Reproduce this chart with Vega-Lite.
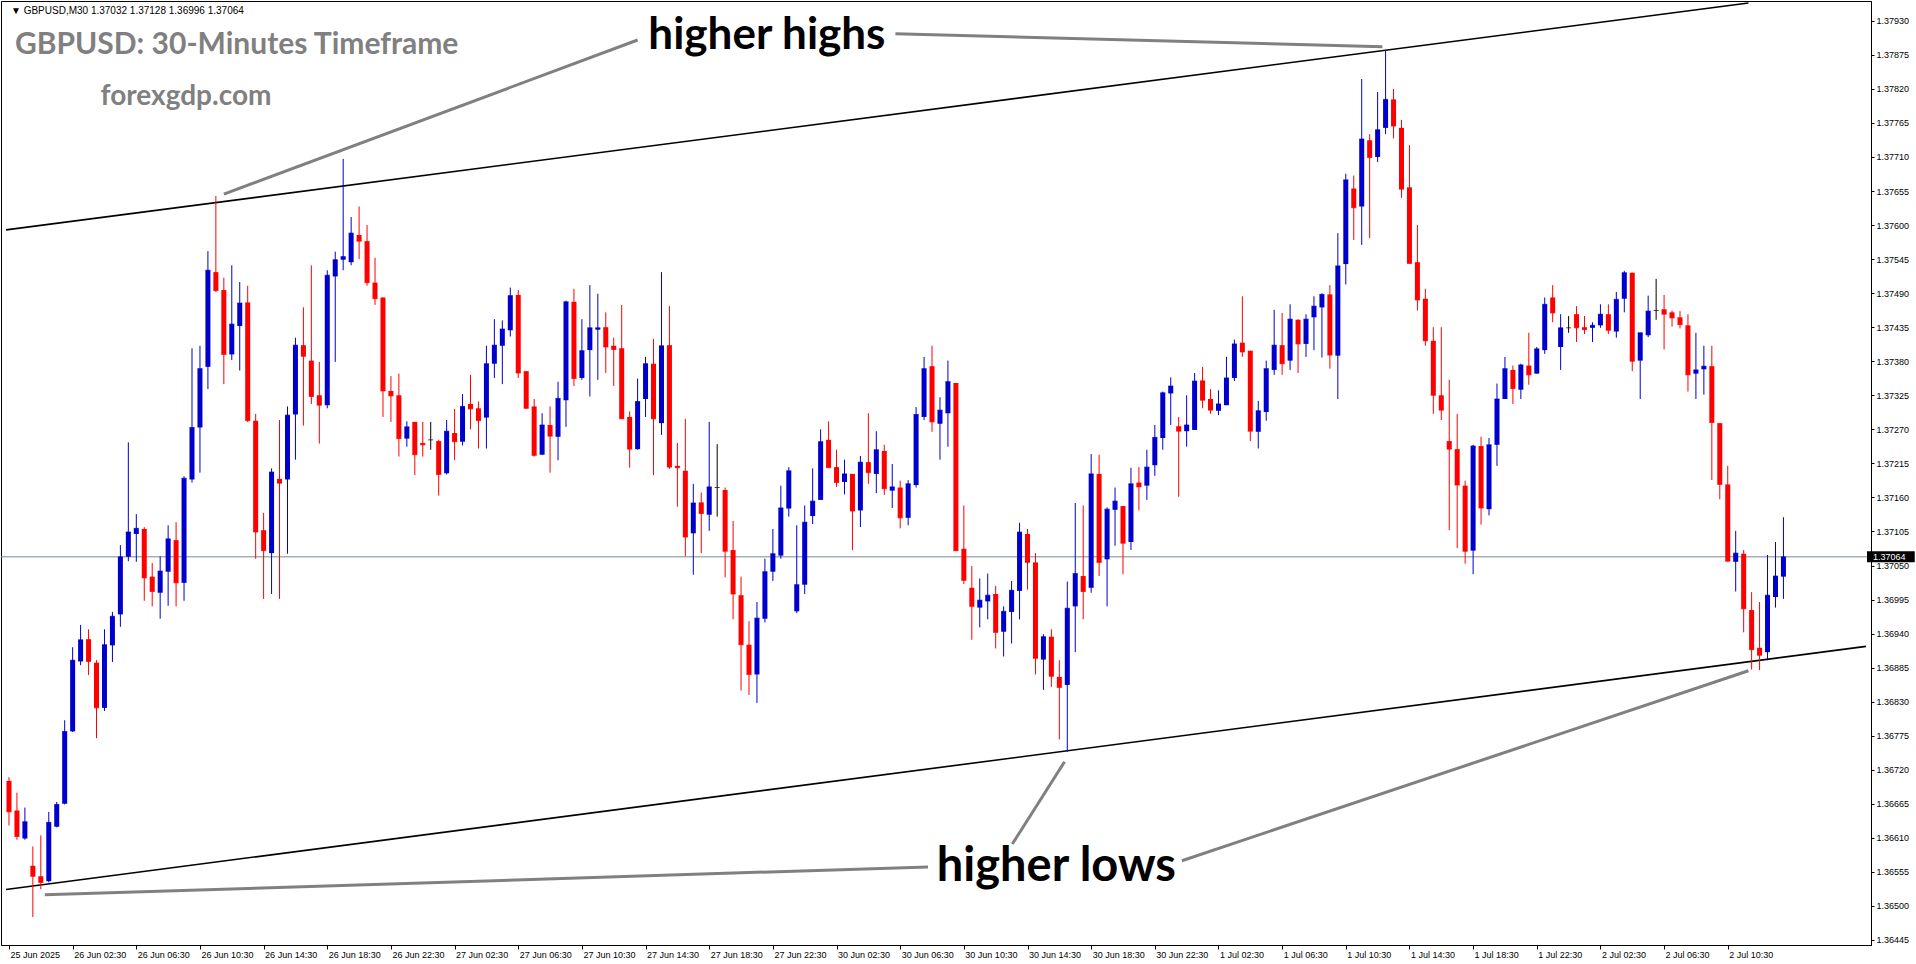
{
"$schema": "https://vega.github.io/schema/vega-lite/v6.json",
"width": 1870, "height": 944,
"autosize": {"type": "none"},
"padding": {"left": 1, "top": 1, "right": 45, "bottom": 19},
"background": "white",
"config": {"view": {"stroke": "black", "strokeWidth": 1}, "font": "Liberation Sans"},
"datasets": {
"candles": [
{"i":0,"o":1.36702,"h":1.36708,"l":1.36630,"c":1.36652},
{"i":1,"o":1.36654,"h":1.36683,"l":1.36607,"c":1.36612},
{"i":2,"o":1.36609,"h":1.36659,"l":1.36607,"c":1.36636},
{"i":3,"o":1.36565,"h":1.36596,"l":1.36482,"c":1.36548},
{"i":4,"o":1.36548,"h":1.36614,"l":1.36527,"c":1.36538},
{"i":5,"o":1.36540,"h":1.36652,"l":1.36538,"c":1.36635},
{"i":6,"o":1.36628,"h":1.36668,"l":1.36627,"c":1.36664},
{"i":7,"o":1.36665,"h":1.36800,"l":1.36664,"c":1.36782},
{"i":8,"o":1.36782,"h":1.36918,"l":1.36781,"c":1.36897},
{"i":9,"o":1.36895,"h":1.36954,"l":1.36889,"c":1.36930},
{"i":10,"o":1.36931,"h":1.36947,"l":1.36873,"c":1.36895},
{"i":11,"o":1.36893,"h":1.36897,"l":1.36771,"c":1.36820},
{"i":12,"o":1.36820,"h":1.36947,"l":1.36815,"c":1.36922},
{"i":13,"o":1.36921,"h":1.36975,"l":1.36894,"c":1.36968},
{"i":14,"o":1.36971,"h":1.37083,"l":1.36951,"c":1.37064},
{"i":15,"o":1.37064,"h":1.37249,"l":1.37057,"c":1.37104},
{"i":16,"o":1.37101,"h":1.37133,"l":1.37056,"c":1.37110},
{"i":17,"o":1.37109,"h":1.37112,"l":1.36993,"c":1.37030},
{"i":18,"o":1.37032,"h":1.37054,"l":1.36984,"c":1.37008},
{"i":19,"o":1.37006,"h":1.37065,"l":1.36964,"c":1.37041},
{"i":20,"o":1.37040,"h":1.37115,"l":1.36985,"c":1.37093},
{"i":21,"o":1.37091,"h":1.37120,"l":1.36984,"c":1.37022},
{"i":22,"o":1.37022,"h":1.37194,"l":1.36993,"c":1.37191},
{"i":23,"o":1.37189,"h":1.37401,"l":1.37184,"c":1.37273},
{"i":24,"o":1.37273,"h":1.37405,"l":1.37200,"c":1.37368},
{"i":25,"o":1.37371,"h":1.37558,"l":1.37335,"c":1.37527},
{"i":26,"o":1.37524,"h":1.37647,"l":1.37492,"c":1.37494},
{"i":27,"o":1.37495,"h":1.37515,"l":1.37343,"c":1.37391},
{"i":28,"o":1.37391,"h":1.37535,"l":1.37382,"c":1.37440},
{"i":29,"o":1.37437,"h":1.37508,"l":1.37365,"c":1.37474},
{"i":30,"o":1.37475,"h":1.37502,"l":1.37282,"c":1.37284},
{"i":31,"o":1.37284,"h":1.37295,"l":1.37061,"c":1.37104},
{"i":32,"o":1.37107,"h":1.37135,"l":1.36996,"c":1.37074},
{"i":33,"o":1.37070,"h":1.37207,"l":1.37004,"c":1.37201},
{"i":34,"o":1.37190,"h":1.37285,"l":1.36996,"c":1.37183},
{"i":35,"o":1.37189,"h":1.37307,"l":1.37069,"c":1.37293},
{"i":36,"o":1.37294,"h":1.37418,"l":1.37221,"c":1.37406},
{"i":37,"o":1.37406,"h":1.37467,"l":1.37276,"c":1.37388},
{"i":38,"o":1.37381,"h":1.37535,"l":1.37311,"c":1.37323},
{"i":39,"o":1.37325,"h":1.37379,"l":1.37247,"c":1.37309},
{"i":40,"o":1.37309,"h":1.37527,"l":1.37304,"c":1.37519},
{"i":41,"o":1.37517,"h":1.37557,"l":1.37379,"c":1.37544},
{"i":42,"o":1.37544,"h":1.37707,"l":1.37527,"c":1.37549},
{"i":43,"o":1.37540,"h":1.37613,"l":1.37535,"c":1.37587},
{"i":44,"o":1.37584,"h":1.37630,"l":1.37545,"c":1.37574},
{"i":45,"o":1.37574,"h":1.37600,"l":1.37502,"c":1.37507},
{"i":46,"o":1.37507,"h":1.37547,"l":1.37471,"c":1.37481},
{"i":47,"o":1.37483,"h":1.37483,"l":1.37290,"c":1.37332},
{"i":48,"o":1.37332,"h":1.37356,"l":1.37282,"c":1.37324},
{"i":49,"o":1.37325,"h":1.37360,"l":1.37226,"c":1.37255},
{"i":50,"o":1.37255,"h":1.37283,"l":1.37242,"c":1.37274},
{"i":51,"o":1.37282,"h":1.37282,"l":1.37196,"c":1.37229},
{"i":52,"o":1.37248,"h":1.37282,"l":1.37226,"c":1.37245},
{"i":53,"o":1.37253,"h":1.37282,"l":1.37237,"c":1.37253},
{"i":54,"o":1.37251,"h":1.37253,"l":1.37163,"c":1.37197},
{"i":55,"o":1.37199,"h":1.37285,"l":1.37197,"c":1.37267},
{"i":56,"o":1.37264,"h":1.37303,"l":1.37220,"c":1.37250},
{"i":57,"o":1.37250,"h":1.37327,"l":1.37244,"c":1.37307},
{"i":58,"o":1.37311,"h":1.37358,"l":1.37270,"c":1.37303},
{"i":59,"o":1.37304,"h":1.37315,"l":1.37239,"c":1.37284},
{"i":60,"o":1.37289,"h":1.37405,"l":1.37239,"c":1.37376},
{"i":61,"o":1.37376,"h":1.37448,"l":1.37353,"c":1.37406},
{"i":62,"o":1.37405,"h":1.37446,"l":1.37343,"c":1.37432},
{"i":63,"o":1.37430,"h":1.37499,"l":1.37420,"c":1.37486},
{"i":64,"o":1.37487,"h":1.37495,"l":1.37353,"c":1.37361},
{"i":65,"o":1.37364,"h":1.37364,"l":1.37303,"c":1.37304},
{"i":66,"o":1.37307,"h":1.37319,"l":1.37226,"c":1.37228},
{"i":67,"o":1.37229,"h":1.37296,"l":1.37229,"c":1.37277},
{"i":68,"o":1.37277,"h":1.37307,"l":1.37200,"c":1.37259},
{"i":69,"o":1.37258,"h":1.37347,"l":1.37220,"c":1.37320},
{"i":70,"o":1.37317,"h":1.37478,"l":1.37274,"c":1.37476},
{"i":71,"o":1.37476,"h":1.37497,"l":1.37340,"c":1.37352},
{"i":72,"o":1.37353,"h":1.37448,"l":1.37350,"c":1.37397},
{"i":73,"o":1.37398,"h":1.37503,"l":1.37323,"c":1.37434},
{"i":74,"o":1.37431,"h":1.37489,"l":1.37350,"c":1.37434},
{"i":75,"o":1.37435,"h":1.37459,"l":1.37361,"c":1.37403},
{"i":76,"o":1.37405,"h":1.37418,"l":1.37340,"c":1.37399},
{"i":77,"o":1.37401,"h":1.37471,"l":1.37287,"c":1.37287},
{"i":78,"o":1.37290,"h":1.37299,"l":1.37208,"c":1.37238},
{"i":79,"o":1.37238,"h":1.37352,"l":1.37237,"c":1.37315},
{"i":80,"o":1.37319,"h":1.37387,"l":1.37290,"c":1.37376},
{"i":81,"o":1.37376,"h":1.37416,"l":1.37196,"c":1.37287},
{"i":82,"o":1.37280,"h":1.37524,"l":1.37261,"c":1.37405},
{"i":83,"o":1.37406,"h":1.37469,"l":1.37206,"c":1.37209},
{"i":84,"o":1.37211,"h":1.37248,"l":1.37145,"c":1.37208},
{"i":85,"o":1.37203,"h":1.37287,"l":1.37065,"c":1.37096},
{"i":86,"o":1.37102,"h":1.37182,"l":1.37035,"c":1.37151},
{"i":87,"o":1.37152,"h":1.37168,"l":1.37070,"c":1.37134},
{"i":88,"o":1.37132,"h":1.37282,"l":1.37106,"c":1.37177},
{"i":89,"o":1.37176,"h":1.37246,"l":1.37129,"c":1.37176},
{"i":90,"o":1.37172,"h":1.37176,"l":1.37031,"c":1.37073},
{"i":91,"o":1.37075,"h":1.37122,"l":1.36963,"c":1.37004},
{"i":92,"o":1.37002,"h":1.37032,"l":1.36848,"c":1.36922},
{"i":93,"o":1.36922,"h":1.36960,"l":1.36841,"c":1.36874},
{"i":94,"o":1.36874,"h":1.36991,"l":1.36828,"c":1.36965},
{"i":95,"o":1.36964,"h":1.37061,"l":1.36958,"c":1.37040},
{"i":96,"o":1.37040,"h":1.37109,"l":1.37025,"c":1.37069},
{"i":97,"o":1.37066,"h":1.37179,"l":1.37061,"c":1.37143},
{"i":98,"o":1.37142,"h":1.37209,"l":1.37129,"c":1.37203},
{"i":99,"o":1.36976,"h":1.37115,"l":1.36973,"c":1.37019},
{"i":100,"o":1.37019,"h":1.37147,"l":1.37004,"c":1.37120},
{"i":101,"o":1.37130,"h":1.37207,"l":1.37117,"c":1.37154},
{"i":102,"o":1.37156,"h":1.37270,"l":1.37156,"c":1.37250},
{"i":103,"o":1.37253,"h":1.37283,"l":1.37208,"c":1.37208},
{"i":104,"o":1.37209,"h":1.37237,"l":1.37177,"c":1.37184},
{"i":105,"o":1.37185,"h":1.37221,"l":1.37165,"c":1.37198},
{"i":106,"o":1.37198,"h":1.37198,"l":1.37075,"c":1.37138},
{"i":107,"o":1.37139,"h":1.37227,"l":1.37112,"c":1.37217},
{"i":108,"o":1.37217,"h":1.37296,"l":1.37182,"c":1.37200},
{"i":109,"o":1.37198,"h":1.37267,"l":1.37167,"c":1.37237},
{"i":110,"o":1.37235,"h":1.37245,"l":1.37164,"c":1.37174},
{"i":111,"o":1.37171,"h":1.37214,"l":1.37143,"c":1.37177},
{"i":112,"o":1.37176,"h":1.37187,"l":1.37110,"c":1.37127},
{"i":113,"o":1.37127,"h":1.37188,"l":1.37115,"c":1.37182},
{"i":114,"o":1.37180,"h":1.37306,"l":1.37176,"c":1.37294},
{"i":115,"o":1.37290,"h":1.37387,"l":1.37285,"c":1.37368},
{"i":116,"o":1.37372,"h":1.37405,"l":1.37266,"c":1.37282},
{"i":117,"o":1.37279,"h":1.37322,"l":1.37221,"c":1.37301},
{"i":118,"o":1.37296,"h":1.37381,"l":1.37242,"c":1.37347},
{"i":119,"o":1.37345,"h":1.37345,"l":1.37074,"c":1.37074},
{"i":120,"o":1.37077,"h":1.37147,"l":1.37020,"c":1.37026},
{"i":121,"o":1.37014,"h":1.37049,"l":1.36930,"c":1.36984},
{"i":122,"o":1.36982,"h":1.37029,"l":1.36950,"c":1.36994},
{"i":123,"o":1.36992,"h":1.37037,"l":1.36963,"c":1.37002},
{"i":124,"o":1.37004,"h":1.37017,"l":1.36916,"c":1.36942},
{"i":125,"o":1.36943,"h":1.36984,"l":1.36903,"c":1.36976},
{"i":126,"o":1.36975,"h":1.37025,"l":1.36924,"c":1.37010},
{"i":127,"o":1.37009,"h":1.37119,"l":1.36963,"c":1.37104},
{"i":128,"o":1.37101,"h":1.37109,"l":1.37011,"c":1.37055},
{"i":129,"o":1.37055,"h":1.37070,"l":1.36874,"c":1.36900},
{"i":130,"o":1.36898,"h":1.36939,"l":1.36849,"c":1.36935},
{"i":131,"o":1.36935,"h":1.36947,"l":1.36854,"c":1.36871},
{"i":132,"o":1.36870,"h":1.36897,"l":1.36769,"c":1.36853},
{"i":133,"o":1.36857,"h":1.37024,"l":1.36749,"c":1.36981},
{"i":134,"o":1.36984,"h":1.37151,"l":1.36910,"c":1.37037},
{"i":135,"o":1.37033,"h":1.37147,"l":1.36963,"c":1.37008},
{"i":136,"o":1.37014,"h":1.37230,"l":1.37006,"c":1.37198},
{"i":137,"o":1.37198,"h":1.37229,"l":1.37033,"c":1.37055},
{"i":138,"o":1.37060,"h":1.37144,"l":1.36984,"c":1.37141},
{"i":139,"o":1.37140,"h":1.37176,"l":1.37082,"c":1.37154},
{"i":140,"o":1.37146,"h":1.37146,"l":1.37036,"c":1.37086},
{"i":141,"o":1.37088,"h":1.37208,"l":1.37075,"c":1.37182},
{"i":142,"o":1.37184,"h":1.37209,"l":1.37139,"c":1.37177},
{"i":143,"o":1.37179,"h":1.37237,"l":1.37156,"c":1.37209},
{"i":144,"o":1.37212,"h":1.37277,"l":1.37195,"c":1.37257},
{"i":145,"o":1.37256,"h":1.37331,"l":1.37237,"c":1.37329},
{"i":146,"o":1.37328,"h":1.37354,"l":1.37277,"c":1.37340},
{"i":147,"o":1.37275,"h":1.37290,"l":1.37161,"c":1.37267},
{"i":148,"o":1.37267,"h":1.37325,"l":1.37242,"c":1.37277},
{"i":149,"o":1.37269,"h":1.37361,"l":1.37269,"c":1.37348},
{"i":150,"o":1.37349,"h":1.37371,"l":1.37304,"c":1.37317},
{"i":151,"o":1.37319,"h":1.37335,"l":1.37295,"c":1.37301},
{"i":152,"o":1.37300,"h":1.37333,"l":1.37293,"c":1.37311},
{"i":153,"o":1.37309,"h":1.37387,"l":1.37309,"c":1.37353},
{"i":154,"o":1.37353,"h":1.37415,"l":1.37348,"c":1.37408},
{"i":155,"o":1.37410,"h":1.37485,"l":1.37387,"c":1.37395},
{"i":156,"o":1.37397,"h":1.37397,"l":1.37251,"c":1.37267},
{"i":157,"o":1.37266,"h":1.37316,"l":1.37239,"c":1.37300},
{"i":158,"o":1.37298,"h":1.37381,"l":1.37284,"c":1.37368},
{"i":159,"o":1.37366,"h":1.37463,"l":1.37358,"c":1.37406},
{"i":160,"o":1.37406,"h":1.37458,"l":1.37358,"c":1.37376},
{"i":161,"o":1.37381,"h":1.37472,"l":1.37366,"c":1.37448},
{"i":162,"o":1.37447,"h":1.37448,"l":1.37361,"c":1.37408},
{"i":163,"o":1.37408,"h":1.37456,"l":1.37387,"c":1.37448},
{"i":164,"o":1.37451,"h":1.37485,"l":1.37398,"c":1.37469},
{"i":165,"o":1.37467,"h":1.37490,"l":1.37386,"c":1.37488},
{"i":166,"o":1.37488,"h":1.37503,"l":1.37368,"c":1.37390},
{"i":167,"o":1.37389,"h":1.37587,"l":1.37319,"c":1.37534},
{"i":168,"o":1.37537,"h":1.37683,"l":1.37504,"c":1.37673},
{"i":169,"o":1.37659,"h":1.37680,"l":1.37576,"c":1.37628},
{"i":170,"o":1.37630,"h":1.37836,"l":1.37568,"c":1.37739},
{"i":171,"o":1.37737,"h":1.37747,"l":1.37579,"c":1.37709},
{"i":172,"o":1.37710,"h":1.37815,"l":1.37702,"c":1.37754},
{"i":173,"o":1.37757,"h":1.37883,"l":1.37747,"c":1.37803},
{"i":174,"o":1.37803,"h":1.37820,"l":1.37740,"c":1.37760},
{"i":175,"o":1.37757,"h":1.37770,"l":1.37644,"c":1.37658},
{"i":176,"o":1.37661,"h":1.37729,"l":1.37538,"c":1.37538},
{"i":177,"o":1.37540,"h":1.37600,"l":1.37462,"c":1.37479},
{"i":178,"o":1.37481,"h":1.37497,"l":1.37405,"c":1.37413},
{"i":179,"o":1.37413,"h":1.37435,"l":1.37295,"c":1.37325},
{"i":180,"o":1.37325,"h":1.37435,"l":1.37285,"c":1.37301},
{"i":181,"o":1.37251,"h":1.37350,"l":1.37107,"c":1.37238},
{"i":182,"o":1.37238,"h":1.37295,"l":1.37078,"c":1.37180},
{"i":183,"o":1.37179,"h":1.37187,"l":1.37053,"c":1.37073},
{"i":184,"o":1.37074,"h":1.37245,"l":1.37036,"c":1.37243},
{"i":185,"o":1.37243,"h":1.37258,"l":1.37116,"c":1.37143},
{"i":186,"o":1.37141,"h":1.37256,"l":1.37131,"c":1.37245},
{"i":187,"o":1.37245,"h":1.37344,"l":1.37211,"c":1.37319},
{"i":188,"o":1.37319,"h":1.37387,"l":1.37319,"c":1.37368},
{"i":189,"o":1.37366,"h":1.37373,"l":1.37311,"c":1.37336},
{"i":190,"o":1.37334,"h":1.37376,"l":1.37319,"c":1.37374},
{"i":191,"o":1.37373,"h":1.37426,"l":1.37342,"c":1.37358},
{"i":192,"o":1.37360,"h":1.37403,"l":1.37360,"c":1.37400},
{"i":193,"o":1.37398,"h":1.37483,"l":1.37392,"c":1.37472},
{"i":194,"o":1.37483,"h":1.37503,"l":1.37443,"c":1.37458},
{"i":195,"o":1.37403,"h":1.37456,"l":1.37366,"c":1.37434},
{"i":196,"o":1.37434,"h":1.37453,"l":1.37426,"c":1.37434},
{"i":197,"o":1.37456,"h":1.37469,"l":1.37411,"c":1.37434},
{"i":198,"o":1.37435,"h":1.37453,"l":1.37424,"c":1.37431},
{"i":199,"o":1.37434,"h":1.37443,"l":1.37411,"c":1.37438},
{"i":200,"o":1.37438,"h":1.37472,"l":1.37434,"c":1.37456},
{"i":201,"o":1.37456,"h":1.37472,"l":1.37424,"c":1.37430},
{"i":202,"o":1.37428,"h":1.37492,"l":1.37418,"c":1.37480},
{"i":203,"o":1.37481,"h":1.37526,"l":1.37459,"c":1.37523},
{"i":204,"o":1.37523,"h":1.37523,"l":1.37364,"c":1.37380},
{"i":205,"o":1.37381,"h":1.37426,"l":1.37319,"c":1.37426},
{"i":206,"o":1.37422,"h":1.37486,"l":1.37419,"c":1.37461},
{"i":207,"o":1.37462,"h":1.37513,"l":1.37447,"c":1.37462},
{"i":208,"o":1.37464,"h":1.37487,"l":1.37399,"c":1.37456},
{"i":209,"o":1.37459,"h":1.37462,"l":1.37436,"c":1.37450},
{"i":210,"o":1.37451,"h":1.37461,"l":1.37433,"c":1.37439},
{"i":211,"o":1.37438,"h":1.37456,"l":1.37331,"c":1.37358},
{"i":212,"o":1.37360,"h":1.37426,"l":1.37319,"c":1.37366},
{"i":213,"o":1.37367,"h":1.37405,"l":1.37326,"c":1.37372},
{"i":214,"o":1.37372,"h":1.37405,"l":1.37188,"c":1.37281},
{"i":215,"o":1.37280,"h":1.37280,"l":1.37157,"c":1.37181},
{"i":216,"o":1.37181,"h":1.37211,"l":1.37056,"c":1.37057},
{"i":217,"o":1.37056,"h":1.37106,"l":1.37008,"c":1.37070},
{"i":218,"o":1.37069,"h":1.37075,"l":1.36942,"c":1.36980},
{"i":219,"o":1.36978,"h":1.37007,"l":1.36882,"c":1.36914},
{"i":220,"o":1.36917,"h":1.36991,"l":1.36881,"c":1.36905},
{"i":221,"o":1.36910,"h":1.37067,"l":1.36897,"c":1.37002},
{"i":222,"o":1.36999,"h":1.37088,"l":1.36982,"c":1.37033},
{"i":223,"o":1.37032,"h":1.37128,"l":1.36996,"c":1.37064}
],
"channel": [
{"x":-0.375,"y":1.375922,"x2":218.6,"y2":1.379588},
{"x":-0.375,"y":1.365266,"x2":233.375,"y2":1.369193}
],
"guides": [
{"x":27,"y":1.37650,"x2":79,"y2":1.37899},
{"x":111.4,"y":1.37909,"x2":172.6,"y2":1.37888},
{"x":126.09,"y":1.36600,"x2":132.66,"y2":1.36733},
{"x":4.5,"y":1.36518,"x2":115.5,"y2":1.36563},
{"x":147.4,"y":1.36573,"x2":218.6,"y2":1.36880}
],
"last": [{"p":1.37064,"x":233.5,"x2":239.5,"lo":1.370551,"hi":1.370729,"tx":234.25,"t":"1.37064"}]
},
"layer": [
{"data": {"name": "last"},
 "mark": {"type": "rule", "color": "#778899", "strokeWidth": 1},
 "encoding": {"y": {"field": "p", "type": "quantitative", "scale": {"domain": [1.364369, 1.37962], "nice": false, "zero": false},
   "axis": {"orient": "right", "values": [1.36445,1.365,1.36555,1.3661,1.36665,1.3672,1.36775,1.3683,1.36885,1.3694,1.36995,1.3705,1.37105,1.3716,1.37215,1.3727,1.37325,1.3738,1.37435,1.3749,1.37545,1.376,1.37655,1.3771,1.37765,1.3782,1.37875,1.3793], "format": ".5f", "title": null, "grid": false, "domainColor": "black", "tickColor": "black", "labelColor": "black", "labelFont": "Liberation Sans", "labelFontSize": 9, "tickSize": 3, "labelPadding": 2, "labelOverlap": false, "labelFlush": false, "labelBound": false}}}},
{"data": {"name": "channel"},
 "mark": {"type": "rule", "color": "black", "strokeWidth": 1.6},
 "encoding": {
  "x": {"field": "x", "type": "quantitative", "scale": {"domain": [-0.375, 233.375], "nice": false, "zero": false},
    "axis": {"orient": "bottom", "values": [0,8,16,24,32,40,48,56,64,72,80,88,96,104,112,120,128,136,144,152,160,168,176,184,192,200,208,216], "labelExpr": "['25 Jun 2025','26 Jun 02:30','26 Jun 06:30','26 Jun 10:30','26 Jun 14:30','26 Jun 18:30','26 Jun 22:30','27 Jun 02:30','27 Jun 06:30','27 Jun 10:30','27 Jun 14:30','27 Jun 18:30','27 Jun 22:30','30 Jun 02:30','30 Jun 06:30','30 Jun 10:30','30 Jun 14:30','30 Jun 18:30','30 Jun 22:30','1 Jul 02:30','1 Jul 06:30','1 Jul 10:30','1 Jul 14:30','1 Jul 18:30','1 Jul 22:30','2 Jul 02:30','2 Jul 06:30','2 Jul 10:30'][round(datum.value/8)]", "title": null, "grid": false, "labelAlign": "left", "labelOffset": 1, "domainColor": "black", "tickColor": "black", "labelColor": "black", "labelFont": "Liberation Sans", "labelFontSize": 9, "tickSize": 4, "labelPadding": 1, "labelOverlap": false, "labelFlush": false, "labelBound": false}},
  "y": {"field": "y", "type": "quantitative", "scale": {"domain": [1.364369, 1.37962], "nice": false, "zero": false},
   "axis": {"orient": "right", "values": [1.36445,1.365,1.36555,1.3661,1.36665,1.3672,1.36775,1.3683,1.36885,1.3694,1.36995,1.3705,1.37105,1.3716,1.37215,1.3727,1.37325,1.3738,1.37435,1.3749,1.37545,1.376,1.37655,1.3771,1.37765,1.3782,1.37875,1.3793], "format": ".5f", "title": null, "grid": false, "domainColor": "black", "tickColor": "black", "labelColor": "black", "labelFont": "Liberation Sans", "labelFontSize": 9, "tickSize": 3, "labelPadding": 2, "labelOverlap": false, "labelFlush": false, "labelBound": false}},
  "x2": {"field": "x2"}, "y2": {"field": "y2"}}},
{"data": {"name": "guides"},
 "mark": {"type": "rule", "color": "#808080", "strokeWidth": 3},
 "encoding": {
  "x": {"field": "x", "type": "quantitative", "scale": {"domain": [-0.375, 233.375], "nice": false, "zero": false},
    "axis": {"orient": "bottom", "values": [0,8,16,24,32,40,48,56,64,72,80,88,96,104,112,120,128,136,144,152,160,168,176,184,192,200,208,216], "labelExpr": "['25 Jun 2025','26 Jun 02:30','26 Jun 06:30','26 Jun 10:30','26 Jun 14:30','26 Jun 18:30','26 Jun 22:30','27 Jun 02:30','27 Jun 06:30','27 Jun 10:30','27 Jun 14:30','27 Jun 18:30','27 Jun 22:30','30 Jun 02:30','30 Jun 06:30','30 Jun 10:30','30 Jun 14:30','30 Jun 18:30','30 Jun 22:30','1 Jul 02:30','1 Jul 06:30','1 Jul 10:30','1 Jul 14:30','1 Jul 18:30','1 Jul 22:30','2 Jul 02:30','2 Jul 06:30','2 Jul 10:30'][round(datum.value/8)]", "title": null, "grid": false, "labelAlign": "left", "labelOffset": 1, "domainColor": "black", "tickColor": "black", "labelColor": "black", "labelFont": "Liberation Sans", "labelFontSize": 9, "tickSize": 4, "labelPadding": 1, "labelOverlap": false, "labelFlush": false, "labelBound": false}},
  "y": {"field": "y", "type": "quantitative", "scale": {"domain": [1.364369, 1.37962], "nice": false, "zero": false},
   "axis": {"orient": "right", "values": [1.36445,1.365,1.36555,1.3661,1.36665,1.3672,1.36775,1.3683,1.36885,1.3694,1.36995,1.3705,1.37105,1.3716,1.37215,1.3727,1.37325,1.3738,1.37435,1.3749,1.37545,1.376,1.37655,1.3771,1.37765,1.3782,1.37875,1.3793], "format": ".5f", "title": null, "grid": false, "domainColor": "black", "tickColor": "black", "labelColor": "black", "labelFont": "Liberation Sans", "labelFontSize": 9, "tickSize": 3, "labelPadding": 2, "labelOverlap": false, "labelFlush": false, "labelBound": false}},
  "x2": {"field": "x2"}, "y2": {"field": "y2"}}},
{"data": {"name": "candles"},
 "encoding": {
  "x": {"field": "i", "type": "quantitative", "scale": {"domain": [-0.375, 233.375], "nice": false, "zero": false},
    "axis": {"orient": "bottom", "values": [0,8,16,24,32,40,48,56,64,72,80,88,96,104,112,120,128,136,144,152,160,168,176,184,192,200,208,216], "labelExpr": "['25 Jun 2025','26 Jun 02:30','26 Jun 06:30','26 Jun 10:30','26 Jun 14:30','26 Jun 18:30','26 Jun 22:30','27 Jun 02:30','27 Jun 06:30','27 Jun 10:30','27 Jun 14:30','27 Jun 18:30','27 Jun 22:30','30 Jun 02:30','30 Jun 06:30','30 Jun 10:30','30 Jun 14:30','30 Jun 18:30','30 Jun 22:30','1 Jul 02:30','1 Jul 06:30','1 Jul 10:30','1 Jul 14:30','1 Jul 18:30','1 Jul 22:30','2 Jul 02:30','2 Jul 06:30','2 Jul 10:30'][round(datum.value/8)]", "title": null, "grid": false, "labelAlign": "left", "labelOffset": 1, "domainColor": "black", "tickColor": "black", "labelColor": "black", "labelFont": "Liberation Sans", "labelFontSize": 9, "tickSize": 4, "labelPadding": 1, "labelOverlap": false, "labelFlush": false, "labelBound": false}},
  "color": {"condition": [{"test": "datum.c > datum.o", "value": "#0000CD"}, {"test": "datum.c < datum.o", "value": "#FF0000"}], "value": "#000000"}},
 "layer": [
  {"mark": {"type": "rule", "strokeWidth": 1},
   "encoding": {"y": {"field": "l", "type": "quantitative", "scale": {"domain": [1.364369, 1.37962], "nice": false, "zero": false},
     "axis": {"orient": "right", "values": [1.36445,1.365,1.36555,1.3661,1.36665,1.3672,1.36775,1.3683,1.36885,1.3694,1.36995,1.3705,1.37105,1.3716,1.37215,1.3727,1.37325,1.3738,1.37435,1.3749,1.37545,1.376,1.37655,1.3771,1.37765,1.3782,1.37875,1.3793], "format": ".5f", "title": null, "grid": false, "domainColor": "black", "tickColor": "black", "labelColor": "black", "labelFont": "Liberation Sans", "labelFontSize": 9, "tickSize": 3, "labelPadding": 2, "labelOverlap": false, "labelFlush": false, "labelBound": false}},
    "y2": {"field": "h"}}},
  {"mark": {"type": "bar", "size": 5, "orient": "vertical"},
   "encoding": {"y": {"field": "o", "type": "quantitative", "scale": {"domain": [1.364369, 1.37962], "nice": false, "zero": false},
     "axis": {"orient": "right", "values": [1.36445,1.365,1.36555,1.3661,1.36665,1.3672,1.36775,1.3683,1.36885,1.3694,1.36995,1.3705,1.37105,1.3716,1.37215,1.3727,1.37325,1.3738,1.37435,1.3749,1.37545,1.376,1.37655,1.3771,1.37765,1.3782,1.37875,1.3793], "format": ".5f", "title": null, "grid": false, "domainColor": "black", "tickColor": "black", "labelColor": "black", "labelFont": "Liberation Sans", "labelFontSize": 9, "tickSize": 3, "labelPadding": 2, "labelOverlap": false, "labelFlush": false, "labelBound": false}},
    "y2": {"field": "c"}}},
  {"mark": {"type": "tick", "orient": "horizontal", "size": 5, "thickness": 1},
   "encoding": {"y": {"field": "c", "type": "quantitative", "scale": {"domain": [1.364369, 1.37962], "nice": false, "zero": false},
     "axis": {"orient": "right", "values": [1.36445,1.365,1.36555,1.3661,1.36665,1.3672,1.36775,1.3683,1.36885,1.3694,1.36995,1.3705,1.37105,1.3716,1.37215,1.3727,1.37325,1.3738,1.37435,1.3749,1.37545,1.376,1.37655,1.3771,1.37765,1.3782,1.37875,1.3793], "format": ".5f", "title": null, "grid": false, "domainColor": "black", "tickColor": "black", "labelColor": "black", "labelFont": "Liberation Sans", "labelFontSize": 9, "tickSize": 3, "labelPadding": 2, "labelOverlap": false, "labelFlush": false, "labelBound": false}}}}
 ]},
{"data": {"values": [
   {"x": 0.25, "y": 1.37946, "t": "▼ GBPUSD,M30  1.37032 1.37128 1.36996 1.37064", "k": "hdr"},
   {"x": 0.75, "y": 1.37877, "t": "GBPUSD: 30-Minutes Timeframe", "k": "title"},
   {"x": 11.5, "y": 1.37794, "t": "forexgdp.com", "k": "site"},
   {"x": 95.25, "y": 1.37884, "t": "higher highs", "k": "hh"},
   {"x": 116.6, "y": 1.36540, "t": "higher lows", "k": "hl"}
 ]},
 "encoding": {
  "x": {"field": "x", "type": "quantitative", "scale": {"domain": [-0.375, 233.375], "nice": false, "zero": false},
    "axis": {"orient": "bottom", "values": [0,8,16,24,32,40,48,56,64,72,80,88,96,104,112,120,128,136,144,152,160,168,176,184,192,200,208,216], "labelExpr": "['25 Jun 2025','26 Jun 02:30','26 Jun 06:30','26 Jun 10:30','26 Jun 14:30','26 Jun 18:30','26 Jun 22:30','27 Jun 02:30','27 Jun 06:30','27 Jun 10:30','27 Jun 14:30','27 Jun 18:30','27 Jun 22:30','30 Jun 02:30','30 Jun 06:30','30 Jun 10:30','30 Jun 14:30','30 Jun 18:30','30 Jun 22:30','1 Jul 02:30','1 Jul 06:30','1 Jul 10:30','1 Jul 14:30','1 Jul 18:30','1 Jul 22:30','2 Jul 02:30','2 Jul 06:30','2 Jul 10:30'][round(datum.value/8)]", "title": null, "grid": false, "labelAlign": "left", "labelOffset": 1, "domainColor": "black", "tickColor": "black", "labelColor": "black", "labelFont": "Liberation Sans", "labelFontSize": 9, "tickSize": 4, "labelPadding": 1, "labelOverlap": false, "labelFlush": false, "labelBound": false}},
  "y": {"field": "y", "type": "quantitative", "scale": {"domain": [1.364369, 1.37962], "nice": false, "zero": false},
   "axis": {"orient": "right", "values": [1.36445,1.365,1.36555,1.3661,1.36665,1.3672,1.36775,1.3683,1.36885,1.3694,1.36995,1.3705,1.37105,1.3716,1.37215,1.3727,1.37325,1.3738,1.37435,1.3749,1.37545,1.376,1.37655,1.3771,1.37765,1.3782,1.37875,1.3793], "format": ".5f", "title": null, "grid": false, "domainColor": "black", "tickColor": "black", "labelColor": "black", "labelFont": "Liberation Sans", "labelFontSize": 9, "tickSize": 3, "labelPadding": 2, "labelOverlap": false, "labelFlush": false, "labelBound": false}},
  "text": {"field": "t"}},
 "layer": [
  {"transform": [{"filter": "datum.k == 'hdr'"}], "mark": {"type": "text", "align": "left", "baseline": "middle", "font": "Liberation Sans", "fontSize": 10, "color": "black"}},
  {"transform": [{"filter": "datum.k == 'title'"}], "mark": {"type": "text", "align": "left", "baseline": "alphabetic", "font": "Lato", "fontWeight": "bold", "fontSize": 30, "color": "#808080"}},
  {"transform": [{"filter": "datum.k == 'site'"}], "mark": {"type": "text", "align": "left", "baseline": "alphabetic", "font": "Lato", "fontWeight": "bold", "fontSize": 28, "color": "#808080"}},
  {"transform": [{"filter": "datum.k == 'hh'"}], "mark": {"type": "text", "align": "center", "baseline": "alphabetic", "font": "Lato", "fontWeight": "bold", "fontSize": 44, "color": "black"}},
  {"transform": [{"filter": "datum.k == 'hl'"}], "mark": {"type": "text", "align": "left", "baseline": "alphabetic", "font": "Lato", "fontWeight": "bold", "fontSize": 47, "color": "black"}}
 ]},
{"data": {"name": "last"},
 "mark": {"type": "rect", "color": "black"},
 "encoding": {
  "x": {"field": "x", "type": "quantitative", "scale": {"domain": [-0.375, 233.375], "nice": false, "zero": false},
    "axis": {"orient": "bottom", "values": [0,8,16,24,32,40,48,56,64,72,80,88,96,104,112,120,128,136,144,152,160,168,176,184,192,200,208,216], "labelExpr": "['25 Jun 2025','26 Jun 02:30','26 Jun 06:30','26 Jun 10:30','26 Jun 14:30','26 Jun 18:30','26 Jun 22:30','27 Jun 02:30','27 Jun 06:30','27 Jun 10:30','27 Jun 14:30','27 Jun 18:30','27 Jun 22:30','30 Jun 02:30','30 Jun 06:30','30 Jun 10:30','30 Jun 14:30','30 Jun 18:30','30 Jun 22:30','1 Jul 02:30','1 Jul 06:30','1 Jul 10:30','1 Jul 14:30','1 Jul 18:30','1 Jul 22:30','2 Jul 02:30','2 Jul 06:30','2 Jul 10:30'][round(datum.value/8)]", "title": null, "grid": false, "labelAlign": "left", "labelOffset": 1, "domainColor": "black", "tickColor": "black", "labelColor": "black", "labelFont": "Liberation Sans", "labelFontSize": 9, "tickSize": 4, "labelPadding": 1, "labelOverlap": false, "labelFlush": false, "labelBound": false}},
  "x2": {"field": "x2"},
  "y": {"field": "lo", "type": "quantitative", "scale": {"domain": [1.364369, 1.37962], "nice": false, "zero": false},
   "axis": {"orient": "right", "values": [1.36445,1.365,1.36555,1.3661,1.36665,1.3672,1.36775,1.3683,1.36885,1.3694,1.36995,1.3705,1.37105,1.3716,1.37215,1.3727,1.37325,1.3738,1.37435,1.3749,1.37545,1.376,1.37655,1.3771,1.37765,1.3782,1.37875,1.3793], "format": ".5f", "title": null, "grid": false, "domainColor": "black", "tickColor": "black", "labelColor": "black", "labelFont": "Liberation Sans", "labelFontSize": 9, "tickSize": 3, "labelPadding": 2, "labelOverlap": false, "labelFlush": false, "labelBound": false}},
  "y2": {"field": "hi"}}},
{"data": {"name": "last"},
 "mark": {"type": "text", "align": "left", "baseline": "middle", "font": "Liberation Sans", "fontSize": 9, "color": "white"},
 "encoding": {
  "x": {"field": "tx", "type": "quantitative", "scale": {"domain": [-0.375, 233.375], "nice": false, "zero": false},
    "axis": {"orient": "bottom", "values": [0,8,16,24,32,40,48,56,64,72,80,88,96,104,112,120,128,136,144,152,160,168,176,184,192,200,208,216], "labelExpr": "['25 Jun 2025','26 Jun 02:30','26 Jun 06:30','26 Jun 10:30','26 Jun 14:30','26 Jun 18:30','26 Jun 22:30','27 Jun 02:30','27 Jun 06:30','27 Jun 10:30','27 Jun 14:30','27 Jun 18:30','27 Jun 22:30','30 Jun 02:30','30 Jun 06:30','30 Jun 10:30','30 Jun 14:30','30 Jun 18:30','30 Jun 22:30','1 Jul 02:30','1 Jul 06:30','1 Jul 10:30','1 Jul 14:30','1 Jul 18:30','1 Jul 22:30','2 Jul 02:30','2 Jul 06:30','2 Jul 10:30'][round(datum.value/8)]", "title": null, "grid": false, "labelAlign": "left", "labelOffset": 1, "domainColor": "black", "tickColor": "black", "labelColor": "black", "labelFont": "Liberation Sans", "labelFontSize": 9, "tickSize": 4, "labelPadding": 1, "labelOverlap": false, "labelFlush": false, "labelBound": false}},
  "y": {"field": "p", "type": "quantitative", "scale": {"domain": [1.364369, 1.37962], "nice": false, "zero": false},
   "axis": {"orient": "right", "values": [1.36445,1.365,1.36555,1.3661,1.36665,1.3672,1.36775,1.3683,1.36885,1.3694,1.36995,1.3705,1.37105,1.3716,1.37215,1.3727,1.37325,1.3738,1.37435,1.3749,1.37545,1.376,1.37655,1.3771,1.37765,1.3782,1.37875,1.3793], "format": ".5f", "title": null, "grid": false, "domainColor": "black", "tickColor": "black", "labelColor": "black", "labelFont": "Liberation Sans", "labelFontSize": 9, "tickSize": 3, "labelPadding": 2, "labelOverlap": false, "labelFlush": false, "labelBound": false}},
  "text": {"field": "t"}}}
]
}
